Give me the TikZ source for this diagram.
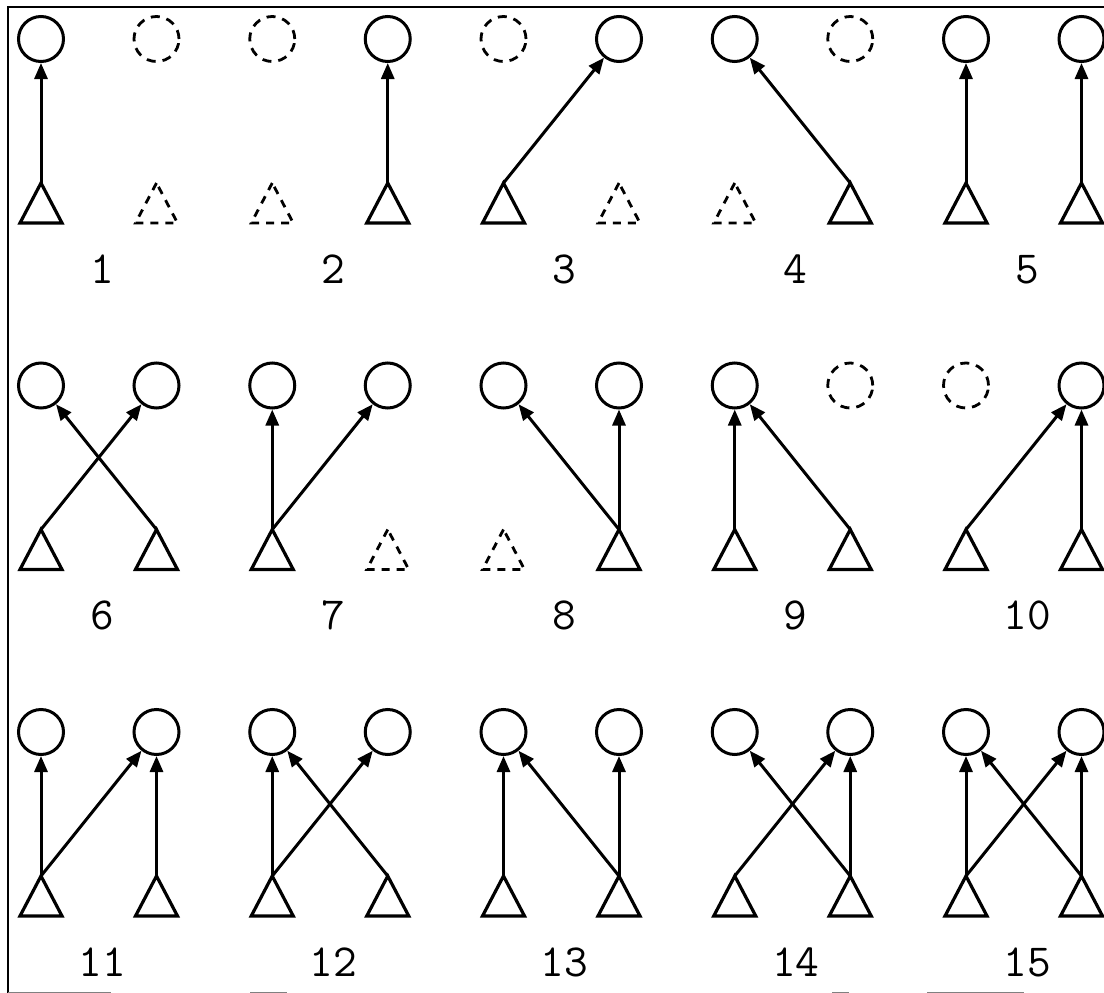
\documentclass[tikz,border=0pt]{standalone}
\usepackage{fontspec}
\usetikzlibrary{arrows.meta}
\begin{document}
\begin{tikzpicture}[x=1pt,y=-1pt,
  circ/.style={circle,draw,line width=3pt,minimum size=45pt,inner sep=0pt},
  dcirc/.style={circ,line width=2.8pt,dash pattern=on 9pt off 7pt},
  tri/.style={draw,line width=3.2pt,line join=miter},
  dtri/.style={tri,line width=2.8pt,dash pattern=on 8pt off 7pt},
  arr/.style={line width=3pt,-{Triangle[length=16pt,width=13pt]}},
  lab/.style={font=\ttfamily\fontsize{46}{46}\selectfont,inner sep=0pt,anchor=base},
  frame/.style={line width=2.2pt},
  gline/.style={gray,line width=1pt}]
\useasboundingbox (0,0) rectangle (1104,993);
\draw[frame] (8,993) -- (8,7) -- (1104,7);
\draw[gline] (8,992) -- (111,992);
\draw[gline] (250,992) -- (287,992);
\draw[gline] (832,992) -- (849,992);
\draw[gline] (927,992) -- (1024,992);
\foreach \n/\cl/\cr/\tl/\tr/\arrs [count=\i from 0] in {
 1/circ/dcirc/tri/dtri/{L/L},
 2/dcirc/circ/dtri/tri/{R/R},
 3/dcirc/circ/tri/dtri/{L/R},
 4/circ/dcirc/dtri/tri/{R/L},
 5/circ/circ/tri/tri/{L/L,R/R},
 6/circ/circ/tri/tri/{L/R,R/L},
 7/circ/circ/tri/dtri/{L/L,L/R},
 8/circ/circ/dtri/tri/{R/L,R/R},
 9/circ/dcirc/tri/tri/{L/L,R/L},
 10/dcirc/circ/tri/tri/{L/R,R/R},
 11/circ/circ/tri/tri/{L/L,L/R,R/R},
 12/circ/circ/tri/tri/{L/L,L/R,R/L},
 13/circ/circ/tri/tri/{L/L,R/L,R/R},
 14/circ/circ/tri/tri/{L/R,R/L,R/R},
 15/circ/circ/tri/tri/{L/L,L/R,R/L,R/R}}
{
 \pgfmathsetmacro\xa{41+231.25*mod(\i,5)}
 \pgfmathsetmacro\xb{\xa+115.5}
 \pgfmathsetmacro\yo{346.5*int(\i/5)}
 \node[\cl] (c\n-L) at (\xa,39+\yo) {};
 \node[\cr] (c\n-R) at (\xb,39+\yo) {};
 \coordinate (t\n-L) at (\xa,183+\yo);
 \coordinate (t\n-R) at (\xb,183+\yo);
 \draw[\tl] (t\n-L) -- ++(-21,40) -- ++(42,0) -- cycle;
 \draw[\tr] (t\n-R) -- ++(-21,40) -- ++(42,0) -- cycle;
 \node[lab] (l\n) at (\xa+61,283+\yo) {\n};
 \foreach \a/\b in \arrs {\draw[arr] (t\n-\a) -- (c\n-\b);}
}
\end{tikzpicture}
\end{document}
